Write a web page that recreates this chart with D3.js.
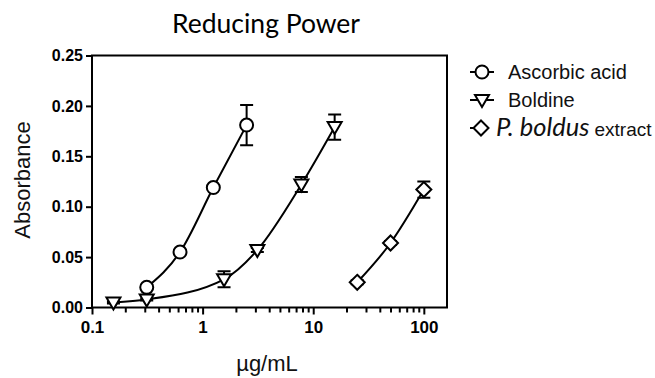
<!DOCTYPE html>
<html><head><meta charset="utf-8">
<script src="https://cdn.jsdelivr.net/npm/d3@7"></script>
<style>body{margin:0;background:#fff}svg{display:block}</style>
</head><body>
<svg id="c" width="655" height="378"></svg>
<script>
// ---- data ----
const ascorbicX = [0.3125, 0.625, 1.25, 2.5];
const ascorbicY = [0.020, 0.055, 0.119, 0.181];
const ascorbicErr = [0.002, 0.002, 0.002, 0.020];

const boldineX = [0.15625, 0.3125, 1.5625, 3.125, 7.8125, 15.625];
const boldineY = [0.005, 0.008, 0.028, 0.057, 0.122, 0.179];
const boldineErr = [0.001, 0.001, 0.008, 0.002, 0.0075, 0.0125];

const boldusX = [25, 50, 100];
const boldusY = [0.025, 0.064, 0.117];
const boldusErr = [0.002, 0.002, 0.008];

const yTicks = [0, 0.05, 0.10, 0.15, 0.20, 0.25];
const xMajor = [0.1, 1, 10, 100];
const xMinor = [0.2,0.3,0.4,0.5,0.6,0.7,0.8,0.9,2,3,4,5,6,7,8,9,20,30,40,50,60,70,80,90];

const titleText = "Reducing Power";
const xLabel = "µg/mL";
const yLabel = "Absorbance";

// ---- layout ----
const svg = d3.select("#c");
const L = 92, R = 447, T = 55.5, B = 307.5;
const x = d3.scaleLog().domain([0.1, 162]).range([L, R]);
const y = d3.scaleLinear().domain([0, 0.25]).range([B, T]);
const AR = "'Liberation Sans', Arial, sans-serif";

svg.append("text").attr("x", 266).attr("y", 33).attr("text-anchor", "middle")
  .attr("font-family", "Lato, 'Open Sans', sans-serif").attr("font-size", 26.5)
  .attr("fill", "#000").text(titleText);

// frame
svg.append("rect").attr("x", L).attr("y", T).attr("width", R - L).attr("height", B - T)
  .attr("fill", "none").attr("stroke", "#000").attr("stroke-width", 2);

// y axis
const yAx = svg.append("g").attr("transform", `translate(${L},0)`)
  .call(d3.axisLeft(y).tickValues(yTicks).tickFormat(d3.format(".2f")).tickSize(6).tickPadding(3));
yAx.select(".domain").remove();
yAx.selectAll("line").attr("stroke", "#000").attr("stroke-width", 2);
yAx.selectAll("text").attr("font-family", AR).attr("font-weight", "bold").attr("font-size", 16).attr("fill", "#000");

// x axis
const xAx = svg.append("g").attr("transform", `translate(0,${B})`)
  .call(d3.axisBottom(x).tickValues(xMajor).tickFormat(d => d3.format("~g")(d)).tickSize(7).tickPadding(6));
xAx.select(".domain").remove();
xAx.selectAll("line").attr("stroke", "#000").attr("stroke-width", 2);
xAx.selectAll("text").attr("font-family", AR).attr("font-weight", "bold").attr("font-size", 17).attr("fill", "#000");
const xAxMin = svg.append("g").attr("transform", `translate(0,${B})`)
  .call(d3.axisBottom(x).tickValues(xMinor).tickFormat("").tickSize(5));
xAxMin.select(".domain").remove();
xAxMin.selectAll("line").attr("stroke", "#000").attr("stroke-width", 2);

svg.append("text").attr("x", 267).attr("y", 371).attr("text-anchor", "middle")
  .attr("font-family", AR).attr("font-size", 22).attr("fill", "#111").text(xLabel);
svg.append("text").attr("transform", "translate(30,180) rotate(-90)").attr("text-anchor", "middle")
  .attr("font-family", AR).attr("font-size", 22).attr("fill", "#111").text(yLabel);

// series
const series = [
  {X: ascorbicX, Y: ascorbicY, E: ascorbicErr, sym: "circle"},
  {X: boldineX, Y: boldineY, E: boldineErr, sym: "tri"},
  {X: boldusX, Y: boldusY, E: boldusErr, sym: "diamond"}
];
function drawSym(g, sym, cx, cy) {
  if (sym === "circle") {
    g.append("circle").attr("cx", cx).attr("cy", cy).attr("r", 6.5)
      .attr("fill", "#fff").attr("stroke", "#000").attr("stroke-width", 2);
  } else if (sym === "tri") {
    g.append("path").attr("d", `M${cx-7},${cy-5}L${cx+7},${cy-5}L${cx},${cy+7}Z`)
      .attr("fill", "#fff").attr("stroke", "#000").attr("stroke-width", 2);
  } else {
    g.append("path").attr("d", `M${cx},${cy-7.5}L${cx+7.5},${cy}L${cx},${cy+7.5}L${cx-7.5},${cy}Z`)
      .attr("fill", "#fff").attr("stroke", "#000").attr("stroke-width", 2);
  }
}
const line = d3.line().x(d => x(d[0])).y(d => y(d[1])).curve(d3.curveMonotoneX);
series.forEach(s => {
  const pts = s.X.map((v, i) => [v, s.Y[i], s.E[i]]);
  svg.append("path").attr("d", line(pts)).attr("fill", "none").attr("stroke", "#000").attr("stroke-width", 2);
  const g = svg.append("g");
  pts.forEach(p => {
    const cx = x(p[0]), y1 = y(p[1] + p[2]), y2 = y(p[1] - p[2]);
    g.append("path").attr("d", `M${cx},${y1}L${cx},${y2}M${cx-6.5},${y1}L${cx+6.5},${y1}M${cx-6.5},${y2}L${cx+6.5},${y2}`)
      .attr("stroke", "#000").attr("stroke-width", 2).attr("fill", "none");
  });
  pts.forEach(p => drawSym(g, s.sym, x(p[0]), y(p[1])));
});

// legend
const legend = [
  {sym: "circle", cy: 72, x0: 470, x1: 494, cx: 482},
  {sym: "tri", cy: 100, x0: 470, x1: 494, cx: 482},
  {sym: "diamond", cy: 128, x0: 470, x1: 488, cx: 481}
];
legend.forEach(l => {
  svg.append("line").attr("x1", l.x0).attr("x2", l.x1).attr("y1", l.cy).attr("y2", l.cy)
    .attr("stroke", "#000").attr("stroke-width", 2);
  drawSym(svg, l.sym, l.cx, l.cy);
});
svg.append("text").attr("x", 508).attr("y", 79).attr("font-family", AR).attr("font-size", 20).attr("fill", "#111").text("Ascorbic acid");
svg.append("text").attr("x", 508).attr("y", 107).attr("font-family", AR).attr("font-size", 20).attr("fill", "#111").text("Boldine");
const t3 = svg.append("text").attr("x", 496).attr("y", 136).attr("fill", "#111");
t3.append("tspan").attr("font-family", "Lato, 'Open Sans', sans-serif").attr("font-style", "italic").attr("font-size", 25.5).text("P. boldus");
t3.append("tspan").attr("font-family", AR).attr("font-size", 19).attr("dx", 5).text("extract");
</script>
</body></html>
